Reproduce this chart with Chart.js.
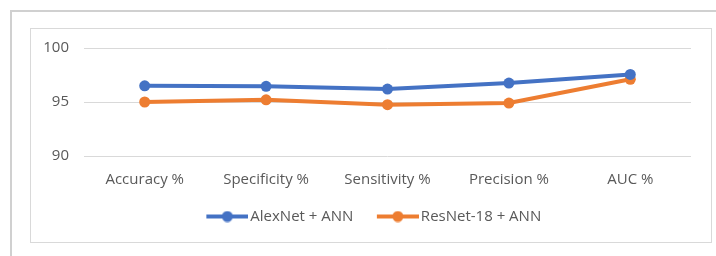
<!DOCTYPE html>
<html>
<head>
<meta charset="utf-8">
<script src="https://cdn.jsdelivr.net/npm/chart.js@4/dist/chart.umd.min.js"></script>
<style>
  body { margin: 0; background: #fff; width: 716px; height: 256px; overflow: hidden; position: relative; }
  #frame { position: absolute; left: 10px; top: 10px; width: 706px; height: 246px;
           border-top: 2px solid #d0d0d0; border-left: 2px solid #d0d0d0; box-sizing: border-box; }
  #box { position: absolute; left: 30px; top: 28px; width: 682px; height: 215px;
         border: 1px solid #d9d9d9; box-sizing: border-box; background: #fff; }
  #wrap { position: relative; width: 680px; height: 213px; }
</style>
</head>
<body>
<div id="frame"></div>
<div id="box"><div id="wrap"><canvas id="chart"></canvas></div></div>
<script>
// values
const categories = ['Accuracy %', 'Specificity %', 'Sensitivity %', 'Precision %', 'AUC %'];
const alexnetAnn = [96.5, 96.45, 96.2, 96.75, 97.55];
const resnet18Ann = [95.0, 95.2, 94.75, 94.9, 97.1];
const yTicks = [90, 95, 100];

const BLUE = '#4472C4';
const ORANGE = '#ED7D31';
const TEXT = '#595959';
const FONT = "'Open Sans', sans-serif";
const FONT_SIZE = 15;

// legend marker: short line with a dot, drawn on the right of a wider canvas
// so that the legend items sit further apart than the legend padding alone gives
function legendMarker(color) {
  const c = document.createElement('canvas');
  c.width = 51;
  c.height = 12;
  const g = c.getContext('2d');
  g.strokeStyle = color;
  g.lineWidth = 4;
  g.beginPath();
  g.moveTo(9, 6);
  g.lineTo(51, 6);
  g.stroke();
  g.fillStyle = color;
  g.beginPath();
  g.arc(30, 6, 5.5, 0, Math.PI * 2);
  g.fill();
  return c;
}

// the legend centres itself including a trailing gap; push it back right a bit
const nudgeLegend = {
  id: 'nudgeLegend',
  afterLayout(chart) {
    chart.legend.left += 11;
    chart.legend.right += 11;
  },
};

function series(label, data, color) {
  return {
    label: label,
    data: data,
    borderColor: color,
    backgroundColor: color,
    borderWidth: 4,
    pointRadius: 5.5,
    pointHoverRadius: 5.5,
    pointBackgroundColor: color,
    pointBorderWidth: 0,
    tension: 0,
    fill: false,
  };
}

const ctx = document.getElementById('chart').getContext('2d');
new Chart(ctx, {
  type: 'line',
  data: {
    labels: categories,
    datasets: [
      series('AlexNet + ANN', alexnetAnn, BLUE),
      series('ResNet-18 + ANN', resnet18Ann, ORANGE),
    ],
  },
  plugins: [nudgeLegend],
  options: {
    responsive: true,
    maintainAspectRatio: false,
    animation: false,
    layout: { padding: { left: 0, right: 20, top: 19, bottom: 8 } },
    plugins: {
      tooltip: { enabled: false },
      legend: {
        position: 'bottom',
        labels: {
          usePointStyle: true,
          pointStyleWidth: 40,
          padding: 20,
          color: TEXT,
          font: { family: FONT, size: FONT_SIZE },
          generateLabels: (chart) =>
            Chart.defaults.plugins.legend.labels.generateLabels(chart).map((item, i) => {
              item.pointStyle = legendMarker(i === 0 ? BLUE : ORANGE);
              return item;
            }),
        },
      },
    },
    scales: {
      x: {
        offset: true,
        afterFit: (scale) => { scale.height = 33; },
        grid: { display: false, drawTicks: false },
        border: { display: false },
        ticks: { color: TEXT, font: { family: FONT, size: FONT_SIZE }, padding: 15, maxRotation: 0 },
      },
      y: {
        min: yTicks[0],
        max: yTicks[yTicks.length - 1],
        afterBuildTicks: (scale) => { scale.ticks = yTicks.map((v) => ({ value: v })); },
        afterFit: (scale) => {
          scale.width = 53;
          scale.paddingTop = 0;
          scale.paddingBottom = 0;
        },
        grid: { color: '#d9d9d9', lineWidth: 1, drawTicks: false },
        border: { display: false },
        ticks: { color: TEXT, font: { family: FONT, size: FONT_SIZE }, padding: 15 },
      },
    },
  },
});
</script>
</body>
</html>
